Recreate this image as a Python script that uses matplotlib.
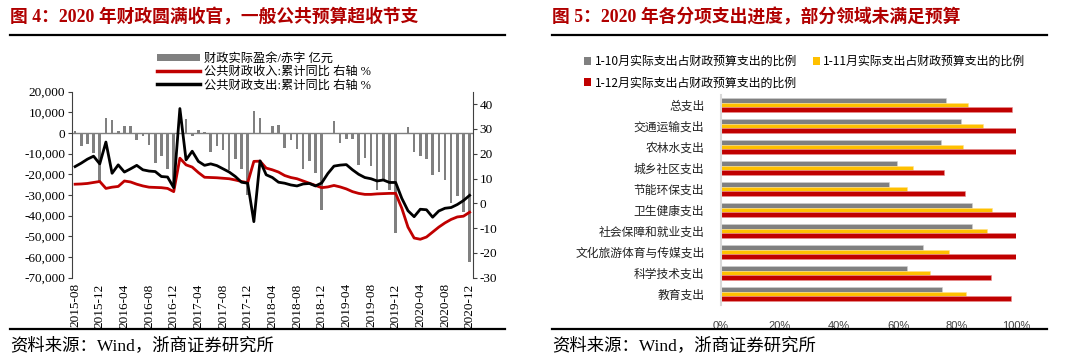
import numpy as np
import matplotlib
matplotlib.use('Agg')
import matplotlib.pyplot as plt
from matplotlib.patches import Patch
from matplotlib.lines import Line2D
from matplotlib.ticker import FuncFormatter

plt.rcParams['font.family'] = ['Liberation Serif', 'Noto Sans CJK SC']
plt.rcParams['axes.unicode_minus'] = False

# ---- left chart data: monthly, 2015-08 .. 2020-12
months = ['%d-%02d' % (y, m) for y in range(2015, 2021) for m in range(1, 13)]
months = months[months.index('2015-08'):]

# fiscal surplus / deficit, 100 mn yuan
balance = [800, -6100, -5200, -9700, -24000, 7100, 6100, 1000, 3200, 3200,
           -3500, -1600, -5800, -14500, -11000, -17400, -25000, 0, 6600, -1600,
           1300, 600, -9200, -6500, -8400, -17700, -12400, -17300, -30000, 10600,
           7400, -500, 3200, 4000, -7100, -3500, -7600, -17300, -13700, -19200,
           -37400, 0, 5600, -4700, -2700, -2700, -15600, -12100, -16000, -27700,
           -22900, -27700, -48400, 0, 2900, -9200, -11300, -12400, -20200, -18900,
           -22900, -33900, -30500, -38200, -62400]

# revenue, cumulative yoy %
revenue = [7.7, 7.8, 8.0, 8.4, 8.8, 6.0, 6.5, 6.8, 9.0, 8.6,
           7.7, 7.0, 6.5, 6.4, 6.3, 6.0, 4.7, 18.2, 15.5, 14.6,
           12.4, 10.5, 10.4, 10.3, 10.1, 9.9, 9.4, 8.8, 8.3, 16.9,
           17.0, 14.2, 13.5, 12.6, 11.2, 10.4, 9.9, 9.0, 8.1, 7.2,
           6.3, 6.6, 7.2, 6.6, 5.8, 4.7, 4.0, 3.6, 3.6, 3.8,
           3.9, 4.0, 4.0, -2.0, -9.6, -14.0, -14.5, -13.6, -11.6, -9.6,
           -7.9, -6.5, -5.5, -5.2, -3.6]

# expenditure, cumulative yoy %
expense = [14.8, 16.2, 17.8, 19.0, 15.9, 24.7, 12.1, 15.5, 12.6, 13.9,
           15.3, 13.5, 13.0, 12.8, 10.8, 10.6, 6.3, 38.2, 17.5, 21.0,
           16.9, 15.3, 15.9, 15.2, 13.9, 12.6, 10.8, 8.5, 8.1, -7.4,
           17.1, 11.5, 10.4, 8.5, 8.1, 7.4, 7.0, 7.8, 8.0, 7.0,
           8.2, 12.0, 15.0, 15.4, 15.6, 13.5, 11.7, 10.4, 9.9, 9.0,
           9.4, 8.4, 8.4, 2.0, -3.0, -5.4, -2.4, -2.6, -5.6, -3.1,
           -2.0, -1.7, -0.5, 1.1, 3.2]

# ---- right chart data
cats = ['总支出', '交通运输支出', '农林水支出', '城乡社区支出', '节能环保支出',
        '卫生健康支出', '社会保障和就业支出', '文化旅游体育与传媒支出', '科学技术支出', '教育支出']
p10 = [76.3, 81.2, 74.7, 59.7, 56.8, 85.0, 85.0, 68.4, 62.9, 75.0]
p11 = [83.6, 88.8, 81.9, 65.2, 62.9, 91.9, 90.3, 77.2, 70.8, 82.9]
p12 = [98.8, 100.0, 100.0, 75.7, 82.6, 100.0, 100.0, 100.0, 91.4, 98.4]

GRAY = '#808080'
RED = '#C00000'
YEL = '#FFC000'
W, H = 1080, 360

fig = plt.figure(figsize=(10.8, 3.6), dpi=100)

# titles, rules and source lines
cjk = ['Liberation Serif', 'Noto Sans CJK SC']
fig.text(10 / W, 1 - 17 / H, '图 4：2020 年财政圆满收官，一般公共预算超收节支', fontsize=12.8,
         fontweight='bold', color='#B00000', va='center', family=cjk)
fig.text(552 / W, 1 - 17 / H, '图 5：2020 年各分项支出进度，部分领域未满足预算', fontsize=12.8,
         fontweight='bold', color='#B00000', va='center', family=cjk)
for x0, x1 in [(10, 505), (552, 1047)]:
    fig.add_artist(Line2D([x0 / W, x1 / W], [1 - 35 / H] * 2, color='black', lw=1.6))
    fig.add_artist(Line2D([x0 / W, x1 / W], [1 - 329 / H] * 2, color='black', lw=1.6))
    fig.text(x0 / W, 1 - 346 / H, '资料来源：Wind，浙商证券研究所', fontsize=12.5,
             va='center', family=cjk)

# ---- left chart
ax1 = fig.add_axes([72 / W, 1 - 277.7 / H, 400.7 / W, 186 / H])
x = np.arange(len(months))
ax1.bar(x, balance, width=0.42, color=GRAY, zorder=2)
ax1.axhline(0, color='#7f7f7f', lw=1.0, zorder=1)
ax1.set_xlim(-0.5, len(months) - 0.5)
ax1.set_ylim(-70000, 20000)
ax1.set_yticks(range(-70000, 20001, 10000))
ax1.yaxis.set_major_formatter(FuncFormatter(lambda v, p: f'{v:,.0f}'))
ax1.set_xticks(x[::4])
ax1.set_xticklabels(months[::4], rotation=90)
ax1.tick_params(axis='x', length=0, pad=4, labelsize=9.5)
ax1.tick_params(axis='y', length=3, labelsize=9.5, pad=2, color='#404040')
for s in ['top', 'bottom', 'right']:
    ax1.spines[s].set_visible(False)
ax1.spines['left'].set_color('#404040')

ax2 = ax1.twinx()
ax2.plot(x, revenue, color=RED, lw=2.0, zorder=3)
ax2.plot(x, expense, color='black', lw=2.0, zorder=4)
ax2.set_ylim(-30, 45)
ax2.set_yticks(range(-30, 41, 10))
ax2.yaxis.set_major_formatter(FuncFormatter(lambda v, p: f'{v:.0f}'))
ax2.tick_params(axis='y', length=3, labelsize=9.5, pad=2, color='#404040')
for s in ['top', 'bottom', 'left']:
    ax2.spines[s].set_visible(False)
ax2.spines['right'].set_color('#404040')

h_left = [Patch(facecolor=GRAY, edgecolor='none'),
          Line2D([], [], color=RED, lw=2.5),
          Line2D([], [], color='black', lw=2.5)]
l_left = ['财政实际盈余/赤字 亿元', '公共财政收入:累计同比 右轴 %', '公共财政支出:累计同比 右轴 %']
fig.legend(h_left, l_left, loc='upper left', bbox_to_anchor=(157 / W, 1 - 53 / H),
           frameon=False, handlelength=3.5, handleheight=0.55,
           handletextpad=0.35, labelspacing=0.1, borderpad=0, borderaxespad=0,
           prop={'family': ['Liberation Serif', 'Noto Sans CJK SC'], 'size': 8.8})

# ---- right chart
ax3 = fig.add_axes([721 / W, 1 - 304.5 / H, 295 / W, 210 / H])
y = np.arange(len(cats))
bh = 0.213
ax3.barh(y - bh, p10, bh, color=GRAY, edgecolor='#d0d0d0', lw=0.4)
ax3.barh(y, p11, bh, color=YEL, edgecolor='#ffe08a', lw=0.4)
ax3.barh(y + bh, p12, bh, color=RED, edgecolor='#e89090', lw=0.4)
ax3.set_ylim(len(cats) - 0.5, -0.5)
ax3.set_xlim(0, 100)
ax3.set_yticks(y)
ax3.set_yticklabels(cats, family=['Noto Sans CJK SC'], fontsize=8.5, color='#222222')
ax3.set_xticks(range(0, 101, 20))
ax3.xaxis.set_major_formatter(FuncFormatter(lambda v, p: f'{v:.0f}%'))
ax3.tick_params(axis='y', length=0, pad=12)
ax3.tick_params(axis='x', length=0, pad=12, labelsize=8, labelcolor='#404040')
for lab in ax3.get_xticklabels():
    lab.set_family('Liberation Sans')
for s in ['top', 'bottom', 'right']:
    ax3.spines[s].set_visible(False)
ax3.spines['left'].set_color('#d9d9d9')
ax3.spines['left'].set_linewidth(1.5)

h_right = [Patch(facecolor=GRAY), Patch(facecolor=RED), Patch(facecolor=YEL)]
l_right = ['1-10月实际支出占财政预算支出的比例', '1-12月实际支出占财政预算支出的比例',
           '1-11月实际支出占财政预算支出的比例']
fig.legend(h_right, l_right, loc='upper left', bbox_to_anchor=(584 / W, 1 - 55 / H), ncol=2,
           frameon=False, handlelength=0.6, handleheight=0.6, handletextpad=0.3,
           columnspacing=1.3, labelspacing=0.7, borderpad=0, borderaxespad=0,
           prop={'family': ['Noto Sans CJK SC'], 'size': 8.6})

fig.savefig('out.png', dpi=100)
